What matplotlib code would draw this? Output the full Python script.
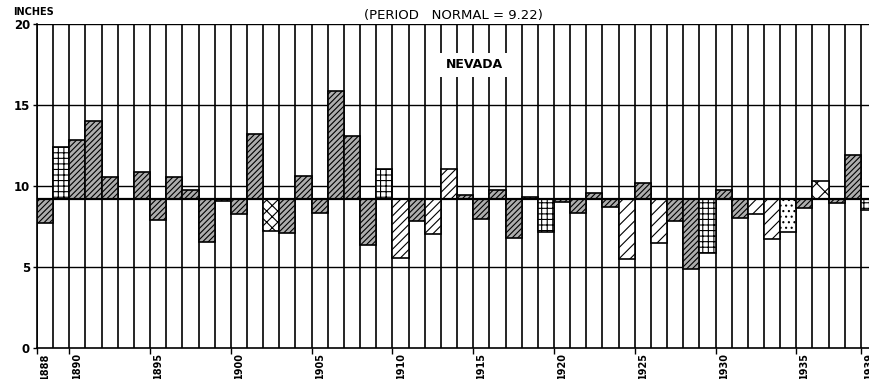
import numpy as np
import matplotlib
matplotlib.use('Agg')
from matplotlib import pyplot as plt

# Annual precipitation, Nevada state average (inches)
years = list(range(1888, 1940))
precip = [7.70, 12.43, 12.84, 14.03, 10.54, 9.22, 10.84, 7.90, 10.58, 9.75,
          6.52, 9.07, 8.27, 13.21, 7.24, 7.12, 10.64, 8.31, 15.88, 13.09,
          6.36, 11.03, 5.54, 7.86, 7.04, 11.03, 9.45, 7.98, 9.75, 6.77,
          9.30, 7.14, 9.01, 8.35, 9.59, 8.69, 5.51, 10.20, 6.46, 7.86,
          4.90, 5.84, 9.75, 8.00, 8.27, 6.71, 7.16, 8.66, 10.30, 8.93,
          11.91, 8.52]
normal = 9.22

# shading used for each year's departure bar
hatches = ['//////', '+++', '//////', '//////', '//////', '//////', '//////', '//////', '//////', '//////',
           '//////', '//////', '//////', '//////', 'xxx', '//////', '//////', '//////', '//////', '//////',
           '//////', '+++', '////', '//////', '////', '////', '//////', '//////', '//////', '//////',
           '//////', '+++', '//////', '//////', '//////', '//////', '///', '//////', '///', '//////',
           '//////', '+++', '//////', '//////', '///', '///', '...', '//////', 'xx', '//////',
           '//////', '+++']
fills = ['#adadad' if h == '//////' else 'white' for h in hatches]

label_years = [1888, 1890, 1895, 1900, 1905, 1910, 1915, 1920, 1925, 1930, 1935, 1939]

plt.rcParams['hatch.linewidth'] = 0.8
plt.rcParams['font.family'] = ['DejaVu Sans']

fig = plt.figure(figsize=(8.69, 3.79), dpi=100)
ax = fig.add_axes([37 / 869, 1 - 348 / 379, 1 - 37 / 869, (348 - 24) / 379])

x0 = 1887.5
x1 = x0 + (869 - 37) / 16.2
ax.set_xlim(x0, x1)
ax.set_ylim(0, 20)

# column rules between years
bounds = np.arange(1887.5, 1941, 1.0)
ax.vlines(bounds, 0, 20, color='black', lw=1.2, zorder=1)
# horizontal scale lines
for yv in [5, 10, 15, 20]:
    ax.axhline(yv, color='black', lw=1.0, zorder=1)

for yr, val, h, fc in zip(years, precip, hatches, fills):
    ax.bar(yr, val - normal, bottom=normal, width=1.0, facecolor=fc,
           edgecolor='black', hatch=h, linewidth=1.2, zorder=2)

ax.axhline(normal, color='black', lw=1.6, zorder=3)

for sp in ['top', 'right']:
    ax.spines[sp].set_visible(False)
ax.spines['left'].set_linewidth(1.2)
ax.spines['bottom'].set_linewidth(1.2)

ax.set_yticks([0, 5, 10, 15, 20])
ax.set_yticklabels(['0', '5', '10', '15', '20'], fontsize=8.5, fontweight='bold')
ax.tick_params(axis='y', length=3, width=1, pad=2)

ax.set_xticks(label_years)
ax.set_xticklabels([str(y) for y in label_years], rotation=90, fontsize=7,
                   fontweight='bold', va='top')
ax.tick_params(axis='x', which='major', length=0, pad=3)
ax.set_xticks([y - 0.5 for y in label_years], minor=True)
ax.tick_params(axis='x', which='minor', length=4, width=1, direction='out')

ax.text(1914.57, 17.5, 'NEVADA', fontsize=9, fontweight='bold', ha='center', va='center',
        zorder=5, bbox=dict(facecolor='white', edgecolor='none', pad=4))

fig.text(453 / 869, 1 - 15 / 379, '(PERIOD   NORMAL = 9.22)', fontsize=9.5,
         ha='center', va='center')
fig.text(13 / 869, 1 - 12 / 379, 'INCHES', fontsize=7, fontweight='bold',
         ha='left', va='center')

fig.savefig('out.png', dpi=100)
